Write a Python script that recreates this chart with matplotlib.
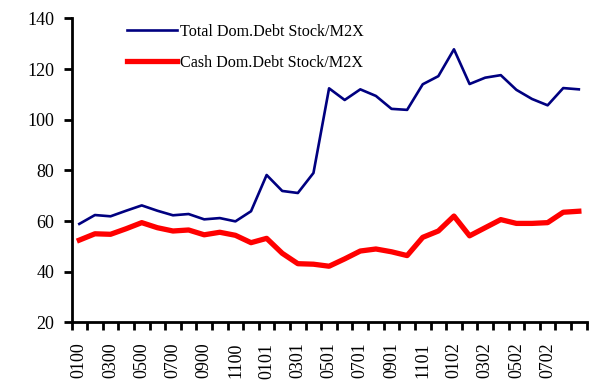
import numpy as np
import matplotlib.pyplot as plt

# monthly observations, Jan 2000 .. Sep 2002 (MMYY codes)
months = ['0100', '0200', '0300', '0400', '0500', '0600', '0700', '0800', '0900',
          '1000', '1100', '1200', '0101', '0201', '0301', '0401', '0501', '0601',
          '0701', '0801', '0901', '1001', '1101', '1201', '0102', '0202', '0302',
          '0402', '0502', '0602', '0702', '0802', '0902']
total_debt = [58.9, 62.4, 61.9, 64.1, 66.2, 64.1, 62.3, 62.8, 60.7, 61.2, 59.9,
              63.9, 78.2, 71.9, 71.1, 79.0, 112.4, 107.8, 112.0, 109.4, 104.3,
              103.9, 114.0, 117.2, 127.8, 114.1, 116.6, 117.6, 111.8, 108.2,
              105.7, 112.5, 112.0]
cash_debt = [52.5, 55.0, 54.8, 57.0, 59.4, 57.4, 56.1, 56.5, 54.6, 55.6, 54.4,
             51.5, 53.2, 47.3, 43.2, 43.0, 42.2, 45.1, 48.2, 49.0, 47.9, 46.4,
             53.6, 56.1, 62.0, 54.2, 57.4, 60.6, 59.1, 59.1, 59.4, 63.5, 63.9]
shown_labels = months[:31:2]

plt.rcParams['font.family'] = ['Liberation Serif', 'DejaVu Serif']

fig = plt.figure(figsize=(5.89, 3.83), dpi=100)
ax = fig.add_axes([0.1214, 0.158, 0.8746, 0.794])

x = np.arange(len(months))
ax.plot(x, total_debt, color='#000080', lw=1.9, label='Total Dom.Debt Stock/M2X')
ax.plot(x, cash_debt, color='#ff0000', lw=3.8, label='Cash Dom.Debt Stock/M2X')

ax.set_xlim(-0.5, len(months) - 0.5)
ax.set_ylim(20, 140)
ax.set_yticks(np.arange(20, 141, 20))

# tick marks sit between categories, labels on every other month
ax.set_xticks(np.arange(0, 31, 2))
ax.set_xticklabels(shown_labels, rotation=90, fontsize=13)
ax.set_xticks(np.arange(-0.5, len(months)), minor=True)
ax.tick_params(axis='x', which='major', length=0, pad=14.5)
ax.tick_params(axis='x', which='minor', length=6, width=2, direction='out')
ax.tick_params(axis='y', length=6, width=2, direction='out', labelsize=13, pad=6.5)

for side in ['top', 'right']:
    ax.spines[side].set_visible(False)
for side in ['left', 'bottom']:
    ax.spines[side].set_linewidth(2)

ax.legend(loc='upper left', bbox_to_anchor=(127 / 589, 1 - 23.6 / 383),
          bbox_transform=fig.transFigure, frameon=False, borderpad=0,
          borderaxespad=0, fontsize=11.6, handlelength=3.1, handletextpad=0.2,
          labelspacing=0.94)

fig.savefig('out.png', dpi=100)
